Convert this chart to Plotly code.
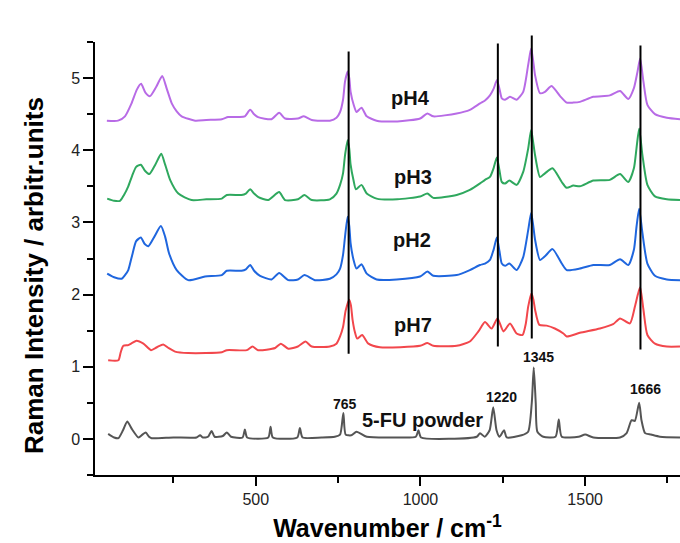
import plotly.graph_objects as go

# ---------------- data ----------------
ph4_x = [48, 82, 103, 123, 139, 152, 165, 179, 198, 216, 230, 245, 260, 275, 316, 350, 397, 416, 450, 467, 483, 495, 507,
         548, 571, 589, 628, 646, 670, 725, 745, 756, 765, 771, 779, 784, 788, 798, 806, 821, 837, 867, 930, 999, 1021,
         1039, 1110, 1150, 1181, 1196, 1211, 1222, 1232, 1240, 1247, 1257, 1272, 1292, 1312, 1327, 1336, 1342, 1348,
         1363, 1378, 1398, 1424, 1444, 1464, 1484, 1525, 1575, 1606, 1631, 1648, 1659, 1667, 1677, 1689, 1712, 1748, 1788]
ph4_y = [4.41, 4.41, 4.47, 4.65, 4.84, 4.92, 4.80, 4.75, 4.88, 5.03, 4.85, 4.65, 4.54, 4.47, 4.41, 4.42, 4.43, 4.46, 4.46,
         4.47, 4.56, 4.50, 4.46, 4.43, 4.52, 4.44, 4.44, 4.47, 4.42, 4.41, 4.45, 4.53, 4.70, 4.95, 5.09, 5.00, 4.81, 4.62,
         4.53, 4.59, 4.47, 4.41, 4.40, 4.44, 4.51, 4.47, 4.51, 4.56, 4.65, 4.69, 4.76, 4.85, 4.97, 4.85, 4.72, 4.70, 4.74,
         4.70, 4.81, 5.18, 5.41, 5.25, 5.04, 4.79, 4.81, 4.89, 4.75, 4.66, 4.66, 4.67, 4.74, 4.76, 4.82, 4.71, 4.86, 5.09,
         5.27, 4.95, 4.63, 4.50, 4.45, 4.43]

ph3_x = [49, 70, 88, 100, 113, 125, 137, 151, 163, 177, 195, 213, 225, 240, 265, 305, 350, 397, 412, 457, 470, 483, 495,
         508, 538, 571, 589, 628, 648, 670, 725, 745, 756, 765, 771, 779, 784, 788, 797, 804, 821, 837, 867, 930, 999,
         1021, 1039, 1110, 1150, 1181, 1196, 1211, 1222, 1232, 1240, 1247, 1257, 1270, 1292, 1312, 1327, 1336, 1342,
         1348, 1363, 1378, 1401, 1429, 1444, 1464, 1484, 1525, 1575, 1606, 1631, 1648, 1656, 1664, 1674, 1689, 1712,
         1748, 1788]
ph3_y = [3.33, 3.30, 3.30, 3.38, 3.50, 3.65, 3.77, 3.80, 3.72, 3.67, 3.80, 3.95, 3.80, 3.59, 3.40, 3.31, 3.32, 3.33, 3.38,
         3.38, 3.40, 3.46, 3.40, 3.35, 3.31, 3.42, 3.31, 3.32, 3.38, 3.31, 3.32, 3.40, 3.52, 3.68, 3.93, 4.14, 4.02, 3.80,
         3.58, 3.46, 3.52, 3.40, 3.33, 3.32, 3.36, 3.40, 3.34, 3.38, 3.45, 3.54, 3.59, 3.63, 3.75, 3.90, 3.72, 3.56, 3.54,
         3.58, 3.52, 3.70, 4.02, 4.28, 4.12, 3.93, 3.63, 3.68, 3.75, 3.56, 3.48, 3.51, 3.50, 3.58, 3.59, 3.67, 3.56, 3.75,
         4.03, 4.30, 3.93, 3.52, 3.36, 3.32, 3.31]

ph2_x = [49, 70, 93, 103, 113, 125, 137, 151, 163, 174, 192, 212, 225, 237, 260, 295, 346, 397, 412, 457, 470, 483, 495,
         513, 548, 571, 599, 628, 648, 680, 725, 745, 756, 765, 771, 779, 784, 788, 797, 806, 821, 837, 867, 928, 999,
         1021, 1039, 1110, 1150, 1181, 1196, 1211, 1222, 1232, 1240, 1247, 1257, 1270, 1292, 1312, 1327, 1336, 1342,
         1348, 1363, 1378, 1401, 1429, 1444, 1484, 1525, 1575, 1606, 1631, 1648, 1656, 1664, 1674, 1689, 1712, 1748, 1788]
ph2_y = [2.29, 2.24, 2.22, 2.27, 2.34, 2.55, 2.74, 2.79, 2.70, 2.67, 2.80, 2.95, 2.80, 2.57, 2.34, 2.20, 2.25, 2.27, 2.33,
         2.33, 2.35, 2.41, 2.33, 2.26, 2.21, 2.30, 2.20, 2.21, 2.27, 2.20, 2.22, 2.28, 2.36, 2.55, 2.80, 3.08, 2.95, 2.71,
         2.48, 2.36, 2.42, 2.29, 2.21, 2.21, 2.25, 2.32, 2.26, 2.27, 2.34, 2.41, 2.43, 2.48, 2.62, 2.79, 2.60, 2.43, 2.40,
         2.43, 2.34, 2.52, 2.89, 3.13, 2.97, 2.76, 2.48, 2.53, 2.63, 2.43, 2.34, 2.36, 2.41, 2.41, 2.49, 2.41, 2.62, 2.94,
         3.19, 2.85, 2.43, 2.26, 2.21, 2.20]

ph7_x = [52, 83, 90, 98, 113, 125, 138, 159, 182, 200, 219, 235, 255, 295, 397, 412, 473, 490, 507, 559, 576, 599, 628,
         651, 670, 725, 745, 756, 765, 773, 784, 789, 794, 801, 808, 823, 842, 877, 999, 1021, 1039, 1110, 1150, 1176,
         1196, 1216, 1234, 1252, 1272, 1292, 1310, 1320, 1327, 1337, 1343, 1348, 1361, 1383, 1408, 1434, 1444, 1484,
         1545, 1585, 1606, 1636, 1651, 1660, 1667, 1677, 1689, 1712, 1748, 1788]
ph7_y = [1.09, 1.09, 1.20, 1.29, 1.30, 1.33, 1.36, 1.32, 1.23, 1.27, 1.31, 1.26, 1.21, 1.19, 1.20, 1.23, 1.23, 1.28, 1.23,
         1.26, 1.32, 1.25, 1.28, 1.35, 1.28, 1.28, 1.32, 1.42, 1.55, 1.78, 1.93, 1.85, 1.65, 1.48, 1.39, 1.44, 1.32, 1.27,
         1.29, 1.33, 1.29, 1.29, 1.35, 1.49, 1.62, 1.53, 1.67, 1.49, 1.60, 1.46, 1.44, 1.60, 1.83, 2.02, 1.93, 1.79, 1.58,
         1.57, 1.53, 1.46, 1.42, 1.47, 1.53, 1.59, 1.67, 1.60, 1.83, 2.00, 2.10, 1.79, 1.44, 1.32, 1.28, 1.28]

fu_x = [52, 70, 83, 97, 110, 125, 144, 156, 166, 176, 184, 250, 320, 331, 340, 355, 366, 375, 400, 412, 425, 460, 467,
        474, 538, 545, 552, 626, 634, 642, 700, 740, 756, 766, 773, 790, 806, 837, 928, 986, 994, 1002, 1171, 1181, 1195,
        1210, 1221, 1231, 1240, 1254, 1262, 1307, 1327, 1338, 1344, 1350, 1355, 1373, 1410, 1420, 1429, 1480, 1500, 1525,
        1606, 1626, 1641, 1651, 1664, 1671, 1682, 1700, 1727, 1788]
fu_y = [0.07, 0.02, 0.01, 0.12, 0.24, 0.13, 0.02, 0.06, 0.09, 0.03, 0.01, 0.02, 0.02, 0.05, 0.02, 0.03, 0.11, 0.03, 0.04,
        0.09, 0.03, 0.02, 0.13, 0.02, 0.02, 0.17, 0.02, 0.02, 0.15, 0.02, 0.02, 0.03, 0.06, 0.36, 0.06, 0.05, 0.10, 0.03,
        0.02, 0.03, 0.12, 0.02, 0.03, 0.08, 0.03, 0.12, 0.44, 0.12, 0.03, 0.12, 0.02, 0.05, 0.10, 0.50, 0.99, 0.50, 0.10,
        0.03, 0.03, 0.27, 0.03, 0.03, 0.06, 0.02, 0.02, 0.08, 0.26, 0.25, 0.50, 0.26, 0.08, 0.06, 0.03, 0.02]

series = [
    ("pH4", ph4_x, ph4_y, "#B86BE6"),
    ("pH3", ph3_x, ph3_y, "#2FA85E"),
    ("pH2", ph2_x, ph2_y, "#1F66DE"),
    ("pH7", ph7_x, ph7_y, "#F2474C"),
    ("5-FU powder", fu_x, fu_y, "#555555"),
]

# vertical marker lines: position, bottom, top (data units)
vline_pos = [782, 1235, 1338, 1668]
vline_bot = [1.18, 1.28, 1.39, 1.24]
vline_top = [5.37, 5.48, 5.59, 5.45]

# peak labels on top
top_lab = ["782", "1235", "1338", "1668"]
top_lab_x = [781, 1229, 1347, 1686]
top_lab_y = [5.56, 5.60, 5.76, 5.58]

# powder peak labels
fu_lab = ["765", "1220", "1345", "1666"]
fu_lab_x = [770, 1247, 1357, 1684]
fu_lab_y = [0.49, 0.58, 1.13, 0.69]

# spectrum names
name_lab = ["pH4", "pH3", "pH2", "pH7", "5-FU powder"]
name_lab_x = [970, 977, 974, 977, 1005]
name_lab_y = [4.72, 3.63, 2.76, 1.575, 0.263]

Y_MIN, Y_MAX = -0.5, 5.5
X_MIN, X_MAX = 12, 1788

FONT = "Liberation Sans, Arial, sans-serif"

fig = go.Figure()
for name, xs, ys, col in series:
    fig.add_trace(go.Scatter(x=xs, y=ys, mode="lines", name=name,
                             line=dict(color=col, width=2, shape="spline", smoothing=0.6),
                             showlegend=False, hoverinfo="skip"))

def to_paper(v):
    return (v - Y_MIN) / (Y_MAX - Y_MIN)

for xp, yb, yt in zip(vline_pos, vline_bot, vline_top):
    fig.add_shape(type="line", xref="x", yref="paper", x0=xp, x1=xp,
                  y0=to_paper(yb), y1=to_paper(yt), line=dict(color="black", width=2))

for t, x, y in zip(top_lab, top_lab_x, top_lab_y):
    fig.add_annotation(x=x, y=y, text="<b>%s</b>" % t, showarrow=False,
                       font=dict(family=FONT, size=14, color="#111111"))
for t, x, y in zip(fu_lab, fu_lab_x, fu_lab_y):
    fig.add_annotation(x=x, y=y, text="<b>%s</b>" % t, showarrow=False,
                       font=dict(family=FONT, size=14, color="#111111"))
for t, x, y in zip(name_lab, name_lab_x, name_lab_y):
    fig.add_annotation(x=x, y=y, text="<b>%s</b>" % t, showarrow=False,
                       font=dict(family=FONT, size=20, color="#111111"))

# y-axis title (placed as a rotated annotation, slightly below the axis centre as in the reference)
fig.add_annotation(xref="paper", yref="paper", x=-0.104, y=0.46, textangle=-90,
                   xanchor="center", yanchor="middle",
                   text="<b>Raman Intensity / arbitr.units</b>", showarrow=False,
                   font=dict(family=FONT, size=26, color="black"))

axis_common = dict(showline=True, linecolor="black", linewidth=1.5, ticks="outside",
                   tickcolor="black", tickwidth=1.5, showgrid=False, zeroline=False,
                   automargin=False,
                   tickfont=dict(family=FONT, size=16, color="#222222"))

fig.update_layout(
    width=680, height=543,
    margin=dict(l=95, r=0, t=42, b=68),
    paper_bgcolor="white", plot_bgcolor="white",
    xaxis=dict(range=[X_MIN, X_MAX], tick0=0, dtick=500, ticklen=9,
               minor=dict(dtick=250, tick0=0, ticklen=6, ticks="outside", tickcolor="black",
                          tickwidth=1.5, showgrid=False),
               title=dict(text="<b>Wavenumber / cm<sup>-1</sup></b>",
                          font=dict(family=FONT, size=25, color="black"), standoff=13),
               **axis_common),
    yaxis=dict(range=[Y_MIN, Y_MAX], tick0=0, dtick=1, ticklen=10,
               minor=dict(dtick=0.5, tick0=0, ticklen=6, ticks="outside", tickcolor="black",
                          tickwidth=1.5, showgrid=False),
               **axis_common),
)

fig.write_html("out.html", config={"displayModeBar": False},
               post_script="document.body.style.margin='0';document.body.style.padding='0';"
                           "document.body.style.overflow='hidden';")
